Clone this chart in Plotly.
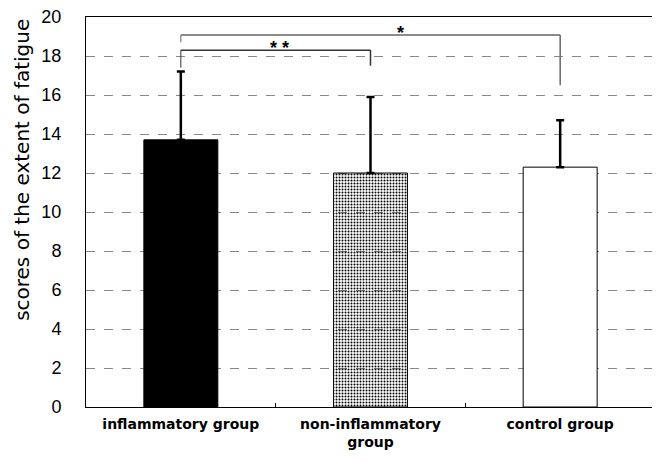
import plotly.graph_objects as go

categories = ["inflammatory group", "non-inflammatory<br>group", "control group"]
means = [13.7, 12.0, 12.3]
sd_upper = [3.5, 3.9, 2.4]
y_ticks = [0, 2, 4, 6, 8, 10, 12, 14, 16, 18, 20]
y_title = "scores of the extent of fatigue"

fig = go.Figure()
fig.add_trace(go.Bar(
    x=categories, y=means,
    width=0.39,
    marker=dict(
        color=["black", "black", "white"],
        line=dict(color="black", width=1),
        pattern=dict(shape=["", ".", ""], fgcolor="white", bgcolor="black",
                     size=3, solidity=0.35, fillmode="replace"),
    ),
    error_y=dict(type="data", symmetric=False, array=sd_upper,
                 arrayminus=[0, 0, 0], color="black", thickness=2.5, width=4),
    showlegend=False,
))

# significance brackets
outer = dict(x0=0, x1=2, y=19.08, yl=18.7, yr=16.5)
inner = dict(x0=0, x1=1, y=18.3, yl=17.4, yr=17.5)
for b, col in [(outer, "#666"), (inner, "#333")]:
    fig.add_shape(type="line", x0=b["x0"], x1=b["x1"], y0=b["y"], y1=b["y"],
                  xref="x", yref="y", line=dict(color=col, width=1.5))
    fig.add_shape(type="line", x0=b["x0"], x1=b["x0"], y0=b["y"], y1=b["yl"],
                  xref="x", yref="y", line=dict(color=col, width=1))
    fig.add_shape(type="line", x0=b["x1"], x1=b["x1"], y0=b["y"], y1=b["yr"],
                  xref="x", yref="y", line=dict(color=col, width=1.5))

fig.add_annotation(x=0.52, y=18.3, text="<b>* *</b>", showarrow=False, yanchor="bottom",
                   yshift=-10, font=dict(size=18, color="black", family="Liberation Sans"))
fig.add_annotation(x=1.16, y=19.08, text="<b>*</b>", showarrow=False, yanchor="bottom",
                   yshift=-10, font=dict(size=18, color="black", family="Liberation Sans"))

# y axis title (placed off-centre as in the original)
fig.add_annotation(x=-0.1125, y=0.608, xref="paper", yref="paper", text=y_title,
                   textangle=-90, showarrow=False, xanchor="center", yanchor="middle",
                   font=dict(size=20, color="black", family="DejaVu Sans"))

fig.update_layout(
    width=652, height=445,
    margin=dict(l=78, r=5, t=9, b=46),
    paper_bgcolor="white", plot_bgcolor="white",
    bargap=0.61,
    font=dict(family="Liberation Sans", color="black"),
)
fig.update_xaxes(
    range=[-0.5, 2.5], showline=True, linecolor="black", linewidth=1, mirror=True,
    ticks="inside", tickson="boundaries", ticklen=4, tickcolor="black",
    tickfont=dict(size=14, family="DejaVu Sans", color="black", weight="bold"),
    ticklabelstandoff=4, ticklabeloverflow="allow",
    showgrid=False, automargin=False,
)
fig.update_yaxes(
    range=[0, 20], tickvals=y_ticks, showline=True, linecolor="black", linewidth=1,
    mirror=True, ticks="", showgrid=True, gridcolor="#888", griddash="dash",
    gridwidth=1, zeroline=False, automargin=False,
    ticklabelstandoff=20, ticklabeloverflow="allow",
    tickfont=dict(size=18, family="Liberation Sans", color="black"),
)
fig.write_html("out.html")
